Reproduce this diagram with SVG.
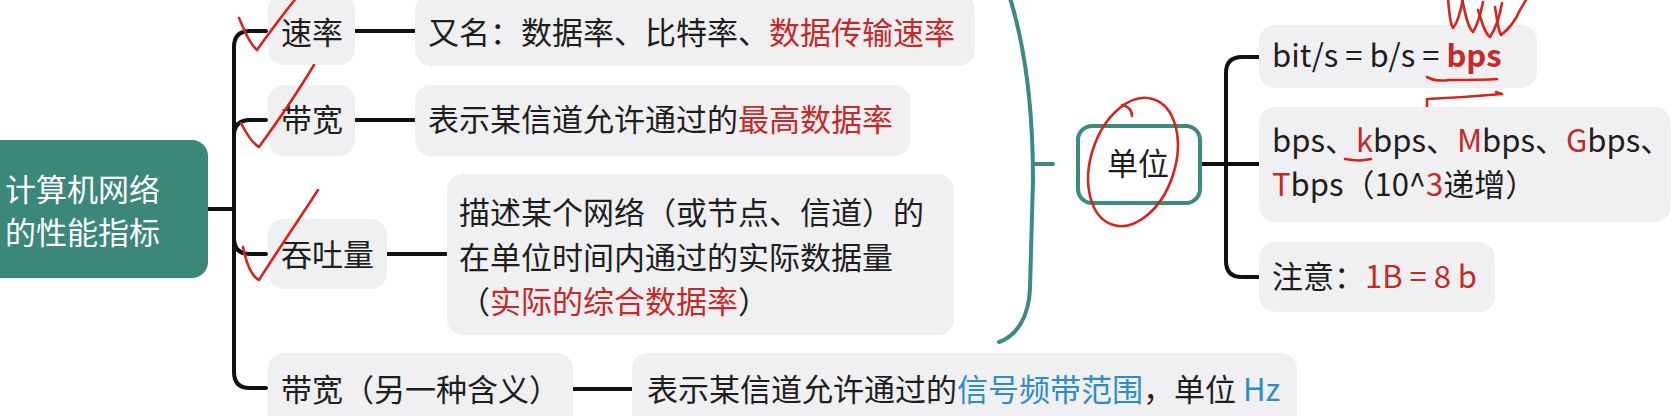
<svg xmlns="http://www.w3.org/2000/svg" width="1676" height="416" viewBox="0 0 1676 416">
<style>
  text { font-family: "Noto Sans CJK SC", "Noto Sans", sans-serif; font-size: 31px; fill: #1e1e1e; }
  .box { fill: #f0eff2; }
  .red { fill: #c42a2a; }
  .blue { fill: #2d8dc5; }
  .conn { fill: none; stroke: #111; stroke-width: 4; stroke-linecap: round; }
  .teal { fill: none; stroke: #3c8a80; stroke-width: 4; stroke-linecap: round; }
  .ink { fill: none; stroke: #d3261f; stroke-width: 2.6; stroke-linecap: round; stroke-linejoin: round; }
</style>
<rect width="1676" height="416" fill="#ffffff"/>

<g id="connectors">
  <path class="conn" d="M207,209 H234"/>
  <path class="conn" d="M234,209 V47 Q234,31 250,31 H266"/>
  <path class="conn" d="M234,209 V136 Q234,120 250,120 H266"/>
  <path class="conn" d="M234,209 V238 Q234,254 250,254 H266"/>
  <path class="conn" d="M234,209 V372 Q234,388 250,388 H266"/>
  <path class="conn" d="M355,31 H414"/>
  <path class="conn" d="M355,120 H414"/>
  <path class="conn" d="M387,254 H446"/>
  <path class="conn" d="M573,389 H632"/>
  <path class="teal" d="M1010,-2 C1026,50 1033,110 1033,180 L1030,288 C1029,318 1016,336 999,342"/>
  <path class="teal" d="M1033,164 H1053"/>
  <path class="conn" d="M1200,164 H1259"/>
  <path class="conn" d="M1226,164 V73 Q1226,57 1242,57 H1259"/>
  <path class="conn" d="M1226,164 V261 Q1226,277 1242,277 H1259"/>
</g>

<g id="root">
  <rect x="-20" y="140" width="228" height="138" rx="16" fill="#3b8779"/>
  <text x="5" y="201" style="fill:#ffffff">计算机网络</text>
  <text x="5" y="244" style="fill:#ffffff">的性能指标</text>
</g>

<g id="n-rate">
  <rect class="box" x="268" y="-6" width="87" height="71" rx="16"/>
  <text x="281" y="44">速率</text>
</g>
<g id="n-rate-desc">
  <rect class="box" x="415" y="-6" width="560" height="72" rx="16"/>
  <text x="428" y="44">又名：数据率、比特率、<tspan class="red">数据传输速率</tspan></text>
</g>

<g id="n-bw">
  <rect class="box" x="268" y="85" width="87" height="71" rx="16"/>
  <text x="281" y="131">带宽</text>
</g>
<g id="n-bw-desc">
  <rect class="box" x="415" y="85" width="495" height="71" rx="16"/>
  <text x="428" y="131">表示某信道允许通过的<tspan class="red">最高数据率</tspan></text>
</g>

<g id="n-tput">
  <rect class="box" x="268" y="219" width="119" height="70" rx="16"/>
  <text x="281" y="266">吞吐量</text>
</g>
<g id="n-tput-desc">
  <rect class="box" x="447" y="174" width="507" height="161" rx="16"/>
  <text x="459" y="224">描述某个网络（或节点、信道）的</text>
  <text x="459" y="269">在单位时间内通过的实际数据量</text>
  <text x="459" y="313">（<tspan class="red">实际的综合数据率</tspan>）</text>
</g>

<g id="n-bw2">
  <rect class="box" x="268" y="353" width="305" height="80" rx="16"/>
  <text x="281" y="401">带宽（另一种含义）</text>
</g>
<g id="n-bw2-desc">
  <rect class="box" x="632" y="353" width="665" height="80" rx="16"/>
  <text x="647" y="401">表示某信道允许通过的<tspan class="blue">信号频带范围</tspan>，单位 <tspan class="blue">Hz</tspan></text>
</g>

<g id="n-unit">
  <rect x="1078" y="126" width="122" height="77" rx="14" fill="#ffffff" stroke="#3c8a80" stroke-width="4"/>
  <text x="1107" y="175">单位</text>
</g>

<g id="n-u1">
  <rect class="box" x="1259" y="25" width="278" height="63" rx="16"/>
  <text x="1272" y="67">bit/s = b/s = <tspan class="red" font-weight="bold">bps</tspan></text>
</g>
<g id="n-u2">
  <rect class="box" x="1259" y="107" width="412" height="115" rx="16"/>
  <text x="1272" y="152">bps、<tspan class="red">k</tspan>bps、<tspan class="red">M</tspan>bps、<tspan class="red">G</tspan>bps、</text>
  <text x="1272" y="196"><tspan class="red">T</tspan>bps（10^<tspan class="red">3</tspan>递增）</text>
</g>
<g id="n-u3">
  <rect class="box" x="1259" y="242" width="236" height="70" rx="16"/>
  <text x="1272" y="288">注意：<tspan class="red">1B = 8 b</tspan></text>
</g>

<g id="annotations">
  <path class="ink" d="M239,18 C245,32 250,44 257,50 C268,35 282,15 298,-4"/>
  <path class="ink" d="M241,123 C246,133 252,143 259,147 C275,125 296,95 314,65"/>
  <path class="ink" d="M243,247 C246,262 251,276 259,280 C278,250 300,218 318,190"/>
  <ellipse class="ink" cx="1133" cy="162" rx="42" ry="66" transform="rotate(18 1133 162)"/>
  <path class="ink" d="M1122,105 C1128,106 1132,110 1132,116"/>
  <path class="ink" d="M1427,77 C1434,81 1440,81 1450,80 C1470,80 1485,80 1497,79"/>
  <path class="ink" d="M1427,106 V99 C1450,98 1480,96 1502,94 L1496,92"/>
  <path class="ink" d="M1345,159 C1355,161 1363,161 1371,159"/>
  <path class="ink" d="M1448,-2 C1449,12 1450,24 1453,28 C1458,22 1461,10 1463,-2"/>
  <path class="ink" d="M1462,-2 C1465,14 1468,28 1473,32 C1478,24 1481,12 1483,2"/>
  <path class="ink" d="M1478,10 C1482,22 1485,34 1490,37 C1496,28 1500,14 1502,3"/>
  <path class="ink" d="M1495,7 C1497,20 1498,30 1501,35 C1508,30 1516,20 1520,10 C1523,5 1525,2 1527,-2"/>
</g>
</svg>
